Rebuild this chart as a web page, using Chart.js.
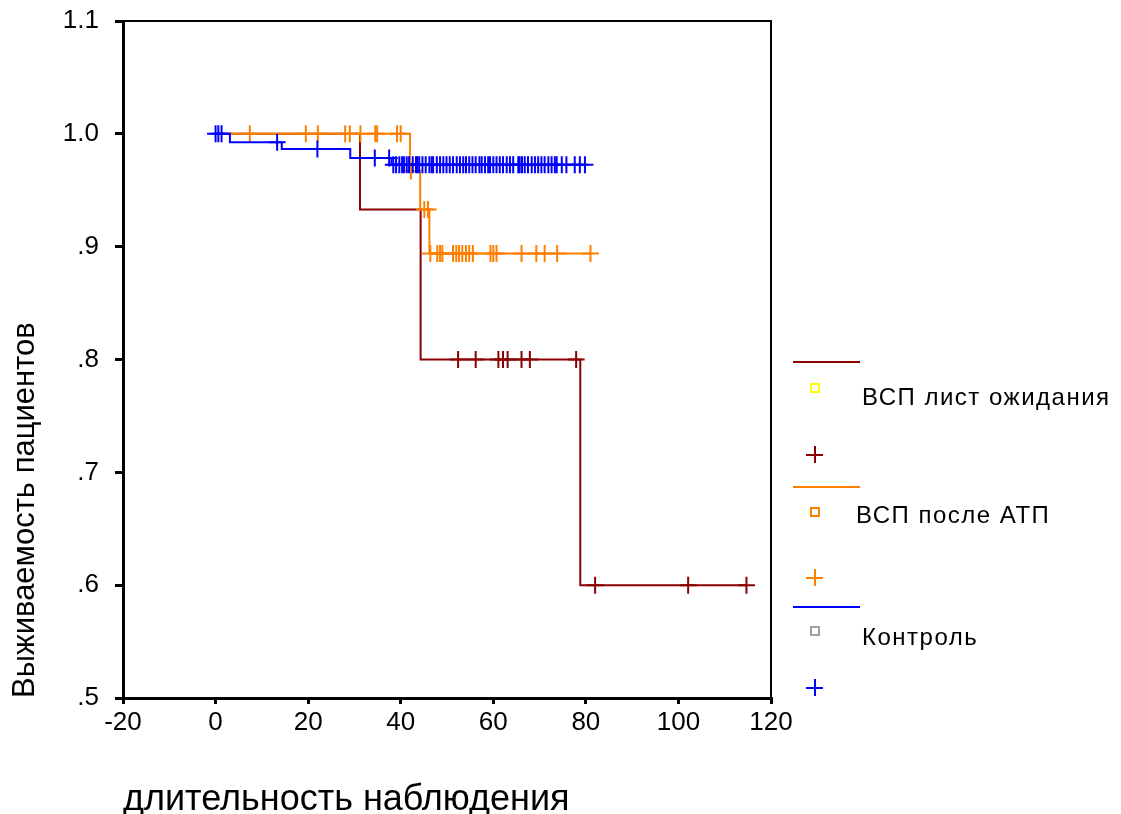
<!DOCTYPE html>
<html>
<head>
<meta charset="utf-8">
<script src="https://cdn.jsdelivr.net/npm/chart.js@4.4.1/dist/chart.umd.min.js"></script>
<style>
html,body{margin:0;padding:0;background:#fff;}
#wrap{position:relative;width:1121px;height:814px;overflow:hidden;}
#wrap canvas{position:absolute;left:0;top:0;}
.lg{position:absolute;font-family:"Liberation Sans",Arial,sans-serif;font-size:24px;line-height:24px;letter-spacing:1.5px;color:#000;white-space:nowrap;}
.ln{position:absolute;height:2px;width:67px;left:793px;}
.sq{position:absolute;box-sizing:border-box;width:10px;height:10px;border:2px solid;left:810px;}
.pl{position:absolute;width:17px;height:17px;left:806px;}
.pl:before,.pl:after{content:"";position:absolute;background:currentColor;}
.pl:before{left:0;top:7.5px;width:17px;height:2px;}
.pl:after{top:0;left:7.5px;width:2px;height:17px;}
</style>
</head>
<body>
<div id="wrap">
  <canvas id="c" width="1121" height="814"></canvas>
  <div id="legend"></div>
</div>
<script>
// ---------- data ----------
const xTicks = [-20, 0, 20, 40, 60, 80, 100, 120];
const yTicks = [0.5, 0.6, 0.7, 0.8, 0.9, 1.0, 1.1];
const seriesNames = ['ВСП лист ожидания', 'ВСП после АТП', 'Контроль'];
const xTitle = 'длительность наблюдения';
const yTitle = 'Выживаемость пациентов';

// ВСП лист ожидания
const waitTimes = [0, 31.2, 44.3, 78.8, 114.7];
const waitSurv  = [1.0, 0.933, 0.8, 0.6, 0.6];
const waitCensored = [52.4, 56.2, 61.1, 62.1, 63.1, 66.1, 67.9, 77.9, 82.0, 102.1, 114.7];

// ВСП после АТП
const atpTimes = [0, 42.0, 44.2, 46.2, 81.0];
const atpSurv  = [1.0, 0.967, 0.933, 0.894, 0.894];
const atpCensored = [7.4, 19.5, 22.1, 28.0, 29.0, 31.3, 34.5, 34.9, 39.2, 40.0, 42.2,
  45.1, 45.9, 46.4, 47.9, 48.5, 49.0, 51.3, 52.0, 52.6, 53.3, 54.1, 54.8, 55.6,
  59.4, 60.0, 60.7, 66.1, 69.3, 71.1, 73.8, 81.0];

// Контроль
const ctrlTimes = [0, 3.1, 14.3, 29.1, 38.0, 79.8];
const ctrlSurv  = [1.0, 0.9925, 0.9865, 0.9785, 0.9725, 0.9725];
const ctrlCensored = [0.0, 0.6, 1.3, 13.3, 22.0, 34.4, 37.5,
  38.4, 39.0, 39.7, 40.3, 40.7, 41.3, 41.8, 42.6, 43.3, 43.6, 44.0, 44.7, 45.4, 46.2,
  46.7, 47.0, 47.8, 48.5, 49.2, 49.9, 50.6, 51.3, 52.1, 52.8, 53.5, 54.1, 54.8, 55.5,
  56.2, 57.0, 57.5, 58.2, 58.9, 59.3, 60.0, 60.7, 61.4, 62.1, 62.9, 63.6, 64.3, 65.4,
  65.7, 66.2, 66.8, 67.5, 68.3, 69.0, 69.7, 70.4, 71.1, 71.9, 72.6, 73.3, 73.7, 74.8,
  75.8, 77.6, 78.7, 79.8];

// ---------- styles ----------
const DARKRED = '#8b0000';
const ORANGE = '#ff8000';
const BLUE = '#0000ff';
const FONT = '"Liberation Sans", Arial, sans-serif';

function levelAt(times, surv, t) {
  let v = surv[0];
  for (let i = 0; i < times.length; i++) { if (times[i] <= t) v = surv[i]; }
  return v;
}
function curve(times, surv) { return times.map((t, i) => ({x: t, y: surv[i]})); }
function marks(times, surv, cens) { return cens.map(t => ({x: t, y: levelAt(times, surv, t)})); }

function lineDs(label, data, color, order) {
  return {type: 'scatter', label, data, showLine: true, stepped: true, borderColor: color,
    backgroundColor: color, borderWidth: 2, pointRadius: 0, pointHoverRadius: 0, order};
}
function markDs(label, data, color, order) {
  return {type: 'scatter', label: label + ' (цензурировано)', data, showLine: false,
    pointStyle: 'cross', pointRadius: 8.5, pointHoverRadius: 8.5, pointBorderWidth: 2,
    borderColor: color, backgroundColor: color, order};
}

const datasets = [
  markDs(seriesNames[2], marks(ctrlTimes, ctrlSurv, ctrlCensored), BLUE, 0),
  lineDs(seriesNames[2], curve(ctrlTimes, ctrlSurv), BLUE, 1),
  markDs(seriesNames[1], marks(atpTimes, atpSurv, atpCensored), ORANGE, 2),
  lineDs(seriesNames[1], curve(atpTimes, atpSurv), ORANGE, 3),
  markDs(seriesNames[0], marks(waitTimes, waitSurv, waitCensored), DARKRED, 4),
  lineDs(seriesNames[0], curve(waitTimes, waitSurv), DARKRED, 5)
];

const framePlugin = {
  id: 'frame',
  afterDatasetsDraw(chart) {
    const {ctx, chartArea: a} = chart;
    ctx.save();
    ctx.strokeStyle = '#000';
    ctx.lineWidth = 2;
    ctx.beginPath();
    ctx.moveTo(a.left, a.top);
    ctx.lineTo(a.right, a.top);
    ctx.lineTo(a.right, a.bottom);
    ctx.stroke();
    ctx.restore();
  }
};

new Chart(document.getElementById('c'), {
  type: 'scatter',
  data: {datasets},
  plugins: [framePlugin],
  options: {
    responsive: false,
    animation: false,
    devicePixelRatio: 1,
    layout: {padding: {left: 0, top: 21, right: 350, bottom: 0}},
    plugins: {legend: {display: false}, tooltip: {enabled: false}},
    events: [],
    scales: {
      x: {
        type: 'linear', position: 'bottom', min: -20, max: 120,
        afterBuildTicks: s => { s.ticks = xTicks.map(v => ({value: v})); },
        afterFit: s => { s.height = 116; s.paddingLeft = 0; s.paddingRight = 0; },
        ticks: {color: '#000', font: {family: FONT, size: 26}, padding: 3, maxRotation: 0, autoSkip: false,
          callback: v => String(v)},
        grid: {drawOnChartArea: false, drawTicks: true, tickLength: 6, tickWidth: 3, tickColor: '#000', color: '#000', lineWidth: 3},
        border: {display: true, color: '#000', width: 3},
        title: {display: true, text: xTitle, align: 'start', color: '#000',
          font: {family: FONT, size: 36, lineHeight: 1}, padding: {top: 0, bottom: -4}}
      },
      y: {
        type: 'linear', position: 'left', min: 0.5, max: 1.1,
        afterBuildTicks: s => { s.ticks = yTicks.map(v => ({value: v})); },
        afterFit: s => { s.width = 123; s.paddingTop = 0; s.paddingBottom = 0; },
        ticks: {color: '#000', font: {family: FONT, size: 26}, padding: 16, autoSkip: false,
          callback: v => { const t = Number(v).toFixed(1); return v < 1 ? t.replace(/^0/, '') : t; }},
        grid: {drawOnChartArea: false, drawTicks: true, tickLength: 8, tickWidth: 3, tickColor: '#000', color: '#000', lineWidth: 3},
        border: {display: true, color: '#000', width: 3},
        title: {display: true, text: yTitle, align: 'start', color: '#000',
          font: {family: FONT, size: 31, lineHeight: 1}, padding: {top: 10, bottom: 0}}
      }
    }
  }
});

// ---------- legend (HTML text) ----------
const legendItems = [
  {name: seriesNames[0], line: DARKRED, sq: '#ffff00', plus: DARKRED, lineY: 361, sqY: 383, textX: 862, textY: 385, plusY: 446},
  {name: seriesNames[1], line: ORANGE, sq: ORANGE, plus: ORANGE, lineY: 486, sqY: 507, textX: 856, textY: 503, plusY: 569},
  {name: seriesNames[2], line: BLUE, sq: '#a0a0a0', plus: BLUE, lineY: 606, sqY: 626, textX: 862, textY: 625, plusY: 679}
];
const lg = document.getElementById('legend');
legendItems.forEach(it => {
  lg.insertAdjacentHTML('beforeend',
    `<div class="ln" style="top:${it.lineY}px;background:${it.line}"></div>` +
    `<div class="sq" style="top:${it.sqY}px;border-color:${it.sq}"></div>` +
    `<div class="lg" style="left:${it.textX}px;top:${it.textY}px">${it.name}</div>` +
    `<div class="pl" style="top:${it.plusY}px;color:${it.plus}"></div>`);
});
</script>
</body>
</html>
